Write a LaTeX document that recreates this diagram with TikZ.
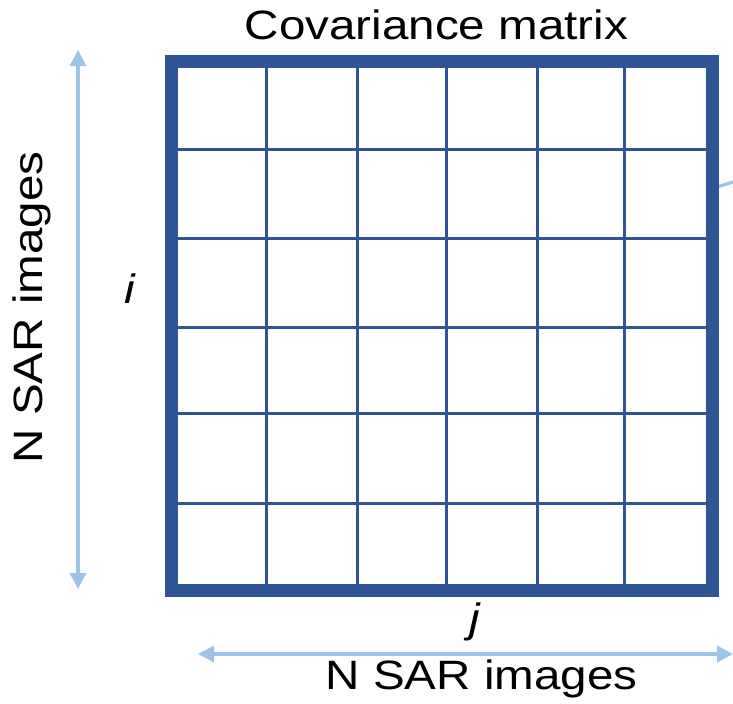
\documentclass[tikz,border=0pt]{standalone}
\usepackage{fontspec}
\setmainfont{Liberation Sans}
\newfontfamily\widesans[FakeStretch=1.16]{Liberation Sans}
\usetikzlibrary{arrows.meta}
\definecolor{frameblue}{RGB}{47,85,151}
\definecolor{arrowblue}{RGB}{157,195,230}

\begin{document}
\begin{tikzpicture}[x=0.5pt,y=-0.5pt,
    lbl/.style={font=\widesans\fontsize{20.5}{24}\selectfont, inner sep=0pt},
    gridline/.style={frameblue, line width=1.5pt},
    dimarrow/.style={{Triangle[length=8pt,width=8pt]}-{Triangle[length=8pt,width=8pt]}, line width=1.6pt, arrowblue}]
    \useasboundingbox (0,0) rectangle (733,703);

    % cells of the matrix
    \foreach \gx in {266.5,357,446,537,624.5}
        \draw[gridline] (\gx,61.5) -- (\gx,590.5);
    \foreach \gy in {149,238,327,413,503}
        \draw[gridline] (171.5,\gy) -- (712.5,\gy);

    % link going out on the right
    \coordinate (linkA) at (707,190);
    \coordinate (linkB) at (733,182);
    \draw[arrowblue, line width=1.6pt] (linkA) -- (linkB);

    % outer frame
    \draw[frameblue, line width=6.25pt] (171.5,61.5) rectangle (712.5,590.5);

    % size arrows
    \coordinate (rowtop) at (78,50);
    \coordinate (rowbot) at (78,589);
    \coordinate (colleft) at (198,654);
    \coordinate (colright) at (733,654);
    \draw[dimarrow] (rowtop) -- (rowbot);
    \draw[dimarrow] (colleft) -- (colright);

    % labels
    \node[lbl, anchor=base] (title) at (436.5,39) {Covariance matrix};
    \node[lbl, anchor=base, rotate=90] (rowlabel) at (42,307.5) {N SAR images};
    \node[lbl, anchor=base] (collabel) at (481.5,689) {N SAR images};
    \node[lbl, anchor=base] (ilabel) at (130,303) {\itshape i};
    \node[lbl, anchor=base] (jlabel) at (475,632) {\itshape j};
\end{tikzpicture}
\end{document}
